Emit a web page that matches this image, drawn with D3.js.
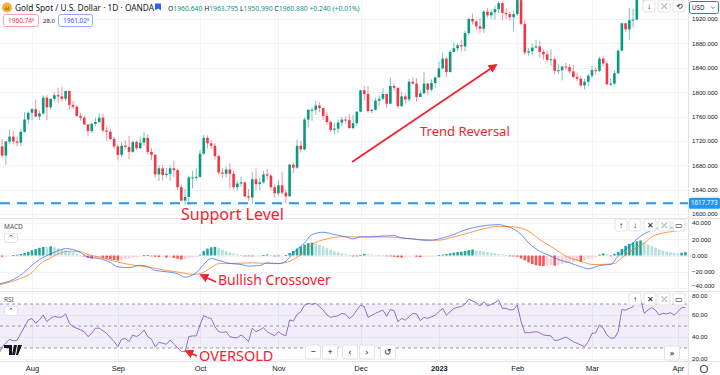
<!DOCTYPE html>
<html>
<head>
<meta charset="utf-8">
<script src="https://cdn.jsdelivr.net/npm/d3@7"></script>
<style>
  body { margin: 0; background: #fff; overflow: hidden; }
  svg { display: block; font-family: 'Noto Sans', 'Open Sans', sans-serif; }
</style>
</head>
<body>
<svg id="chart"></svg>
<script>
// ---- data (XAUUSD daily, 20 Jul 2022 .. 5 Apr 2023) ----
const firstOpen = 1711;
const closes = [
  1696,1719,1727,1719,1717,1735,1755,1766,
  1772,1760,1765,1791,1775,1789,1795,1793,1789,1802,1779,1776,1761,1758,1747,1736,1748,1751,1758,1737,1735,1723,1711,
  1697,1712,1710,1702,1718,1708,1717,1725,1702,1697,1665,1675,1664,1666,1675,1672,1644,1622,1628,1660,1660,1661,
  1699,1725,1716,1712,1695,1668,1666,1673,1666,1644,1650,1652,1629,1627,1657,1649,1652,1665,1663,1644,1634,
  1647,1635,1629,1681,1676,1712,1706,1755,1771,1771,1778,1774,1761,1751,1738,1740,1750,1755,1754,1741,1749,1768,
  1803,1797,1769,1771,1786,1789,1797,1781,1810,1807,1777,1793,1788,1817,1814,1792,1798,1814,1804,1815,1824,
  1839,1855,1833,1866,1872,1877,1875,1897,1920,1916,1908,1904,1932,1926,1931,1936,1946,1930,1928,1923,1928,
  1951,1912,1865,1867,1873,1875,1866,1862,1853,1854,1835,1836,1842,1841,1834,1825,1822,1811,1817,1827,
  1836,1835,1855,1847,1813,1814,1831,1868,1913,1903,1918,1919,1989,1978,1940,1970,1992,1977,1956,1973,1964,1980,1969,
  1984,2020,2021
];
const highs = [
  1723,1720,1739,1737,1727,1739,1767,1768,
  1774,1788,1770,1795,1795,1790,1800,1807,1808,1802,1802,1786,1779,1766,1762,1747,1750,1758,1765,1765,1744,1740,1727,
  1714,1718,1721,1728,1720,1721,1727,1735,1731,1708,1699,1680,1680,1676,1680,1688,1674,1648,1641,1663,1671,1675,
  1705,1730,1729,1721,1716,1697,1675,1678,1683,1671,1655,1661,1653,1641,1669,1675,1659,1670,1674,1665,1648,
  1656,1669,1640,1682,1684,1722,1720,1759,1772,1774,1786,1783,1774,1767,1753,1749,1755,1759,1760,1764,1763,1768,
  1804,1810,1810,1773,1791,1795,1807,1798,1824,1814,1808,1800,1798,1822,1824,1823,1804,1833,1815,1821,1826,
  1850,1865,1858,1869,1881,1880,1886,1901,1922,1929,1919,1922,1935,1938,1935,1942,1949,1949,1938,1932,1933,
  1952,1959,1918,1872,1880,1886,1884,1870,1867,1870,1858,1846,1843,1848,1846,1845,1832,1827,1822,1830,
  1843,1841,1858,1859,1851,1822,1836,1871,1914,1913,1938,1937,1989,2009,1983,1972,2003,2004,1979,1976,1977,1984,1987,
  1990,2025,2032
];
const lows = [
  1692,1681,1714,1714,1711,1711,1733,1748,
  1754,1759,1754,1763,1754,1771,1785,1782,1784,1785,1771,1772,1759,1753,1746,1728,1733,1744,1749,1734,1720,1721,1707,
  1688,1693,1706,1690,1700,1705,1707,1712,1697,1688,1659,1654,1655,1660,1654,1660,1639,1621,1615,1614,1642,1655,
  1659,1697,1708,1707,1689,1665,1659,1660,1642,1640,1639,1645,1627,1621,1617,1639,1639,1650,1656,1640,1627,
  1630,1632,1617,1628,1667,1674,1701,1704,1742,1753,1763,1767,1754,1747,1734,1731,1733,1744,1748,1740,1739,1745,
  1767,1786,1766,1765,1770,1778,1787,1775,1780,1802,1773,1776,1781,1785,1812,1785,1792,1797,1795,1801,1807,
  1828,1837,1825,1832,1865,1867,1867,1867,1893,1911,1901,1896,1897,1922,1920,1919,1930,1918,1920,1917,1900,
  1926,1910,1861,1860,1860,1872,1857,1853,1850,1843,1830,1830,1819,1836,1830,1822,1818,1809,1804,1810,
  1824,1829,1833,1842,1811,1809,1812,1829,1867,1898,1886,1906,1918,1955,1934,1936,1965,1956,1944,1949,1950,1956,1960,
  1950,1979,2010
];
// open of each daily bar is the previous bar's close (spot gold trades round the clock)
const opens = closes.map((c, i) => (i ? closes[i - 1] : firstOpen));

// MACD histogram, one value per bar
const macdHist = [
  -1.5,-1.0,-0.4,0.4,1.0,1.8,3.0,4.5,6.5,8.0,9.5,10.5,10.2,11.2,10.0,8.8,7.8,6.5,5.2,3.8,
  2.4,0.8,-1.2,-2.8,-4.0,-3.2,-2.0,-3.0,-4.0,-4.8,-5.5,-6.2,-5.5,-4.5,-3.5,-2.5,-1.8,-1.0,0.3,0.5,
  -0.3,-1.5,-2.0,-1.8,-2.5,-2.2,-3.0,-4.0,-5.0,-4.5,-3.5,-2.5,-1.5,1.0,5.5,8.5,10.0,10.6,9.0,7.2,
  5.4,3.8,2.4,1.4,0.5,-0.3,-0.8,-1.0,-0.6,-0.3,0.4,1.2,0.8,-0.3,-0.6,-0.4,0.5,3.0,5.5,8.5,
  11.0,13.5,15.2,15.8,14.6,13.0,11.0,9.0,7.0,5.2,3.8,2.5,1.5,0.6,-0.2,-0.5,0.3,2.0,1.5,1.2,
  0.8,0.6,0.2,-0.5,-1.0,-1.6,-2.2,-2.6,-2.0,-1.2,-0.8,-1.5,-2.0,-1.6,-1.2,-0.8,-0.3,0.4,1.0,1.8,
  2.8,3.6,4.2,4.6,5.5,6.6,7.4,6.2,5.8,5.0,4.2,3.4,2.6,1.8,1.2,0.5,-0.6,-1.2,-1.5,-3.5,
  -6.0,-8.5,-10.5,-12.0,-12.8,-13.0,-12.2,-11.8,-12.5,-11.5,-10.5,-9.6,-8.8,-8.0,-7.2,-7.8,-6.4,-5.0,-3.5,-2.0,
  1.2,2.4,1.8,-0.5,2.0,4.5,8.0,12.0,14.5,16.0,17.5,18.5,16.0,13.5,11.5,9.5,7.5,6.0,5.0,4.0,
  3.2,2.6,3.4,4.2
];
// MACD and signal lines, [bar, value]
const macdLine = [
  [-1,-35],[2,-31.5],[5,-24],[8,-12],[10,-5],[13,2],[15,6],[17,8.5],[19,7.4],[21,3.7],[23,-2],[26,-3.7],
  [29,-8.6],[31,-14],[34,-15],[37,-12],[39,-13.7],[41,-18.4],[44,-20],[47,-22.5],[49,-26.6],[51,-24],[52,-21],
  [54,-11],[56,-3.7],[58,-6],[61,-9.8],[64,-11],[66,-13],[69,-12.3],[71,-9],[74,-10],[76,-7],[78,3.3],[81,15.5],
  [83,25.8],[86,28.6],[89,25.8],[92,23],[94,20.6],[96,23],[98,22.9],[101,23.7],[105,24.5],[107,21.7],[110,20.4],
  [113,18.8],[115,18.8],[118,21.7],[121,25.8],[123,29.9],[126,34],[130,37.2],[133,38],[135,36],[137,32.7],
  [139,25.8],[141,15.5],[144,5.3],[147,-0.8],[149,-4.9],[152,-9],[155,-13.9],[157,-16.4],[158,-15.5],[160,-12.3],
  [163,-11],[165,-0.8],[168,11.4],[171,23.7],[174,31],[176,34],[179,34],[182,35.2],[183,36.8]
];
const signalLine = [
  [-1,-36.4],[5,-28],[8,-21],[10,-11],[13,-2.9],[15,2],[18,5.3],[21,4.6],[23,1.2],[26,-2],[30,-7],[34,-11],
  [37,-13],[40,-15],[44,-18.4],[48,-21],[51,-23.3],[53,-22.2],[56,-15],[58,-10],[62,-9.8],[67,-9],[73,-10],
  [76,-8.6],[80,1.2],[83,13.5],[87,20.4],[91,23],[94,23],[96,22.5],[101,22.9],[107,21.7],[112,19.6],[117,18.8],
  [120,21.7],[125,27.8],[129,33],[133,36],[137,35.2],[141,29.9],[144,19.6],[148,8.2],[151,-0.8],[155,-7],
  [158,-11],[160,-11],[164,-9.8],[166,-2.9],[169,7.4],[172,15.5],[174,23],[178,28.6],[182,31],[183,31.9]
];
// RSI(14), [bar, value]
const rsiLine = [
  [-1,23.6],[0,31.2],[2,38],[3,36.4],[4,37],[6,49.4],[7,55.5],[8,56.8],[9,52.5],[10,55.5],[11,60],[12,54],[13,57],
  [14,58.8],[15,58],[16,58],[17,61],[18,52.4],[19,49.4],[20,48],[22,44.8],[23,40.3],[24,43.3],[25,48],[26,48],
  [28,43.3],[29,39.4],[30,35.8],[31,31.2],[32,38],[33,38.5],[34,35.8],[35,41.8],[36,40.3],[37,42.4],[38,46.4],
  [39,40.3],[40,38],[41,31.2],[42,35.2],[43,34.3],[44,33.4],[45,37.3],[46,33.4],[47,30.3],[48,26.7],[49,26.7],
  [50,40.3],[51,41],[52,41],[53,50.9],[54,59.4],[55,57.6],[56,56.8],[57,49.4],[58,44.8],[59,44.2],[60,44.8],
  [61,40.3],[62,39.4],[63,39.4],[64,41.8],[65,39.4],[66,35.8],[67,47.9],[68,44.8],[69,46.4],[70,48.5],[71,44.8],
  [73,41],[74,44.8],[75,42.4],[76,41],[77,55.5],[78,54.5],[79,60.6],[80,63],[81,69],[82,70.6],[83,69.7],[84,70.6],
  [85,67.6],[86,64.5],[87,60],[88,57.9],[90,59.4],[91,61.5],[92,60.6],[93,56.8],[94,59.4],[95,64.5],[96,68.8],
  [97,67.6],[98,57.9],[100,61.5],[102,64.5],[103,58.8],[104,65],[105,63.9],[106,53.9],[107,56.8],[108,55.4],
  [110,61.5],[111,61],[112,54.8],[113,57.9],[114,56.8],[116,59.8],[117,63],[118,66],[119,59.8],[121,66],[122,67],
  [123,67.6],[124,70],[125,74.3],[127,71.2],[128,68.2],[129,72.1],[130,68.2],[132,71.2],[133,73.6],[134,66],
  [135,66],[136,64.5],[137,65],[138,69],[139,53.9],[140,43.9],[141,43.9],[143,44.8],[144,43.9],[145,41.8],[147,41],
  [148,36.7],[149,37.3],[151,40],[153,35.8],[154,34.3],[156,31.2],[157,35.8],[158,43.3],[159,43.9],[160,50.9],
  [161,48],[162,41.8],[163,39],[164,39],[165,44.8],[166,65],[167,64.5],[168,66],[169,67.6],[170,73],[171,74.3],
  [172,61.5],[173,64.5],[174,66.7],[175,64.5],[176,60],[177,61.5],[178,61],[179,62.1],[180,60],[181,63],
  [182,66.7],[183,66.7]
];
const monthLabels = ['Aug', 'Sep', 'Oct', 'Nov', 'Dec', '2023', 'Feb', 'Mar', 'Apr'];
const monthBars = [8, 31, 53, 74, 96, 117, 138, 158, 181];
const priceTicks = [1600, 1640, 1680, 1720, 1760, 1800, 1840, 1880, 1920];
const macdTicks = [-40, -20, 0, 20, 40];
const rsiTicks = [20, 40, 60, 80];
const supportLevel = 1617.773;

// ---- layout ----
const config = {
  width: 720,
  height: 375,
  plotRight: 688,
  price: { top: 0, bottom: 217 },
  macd: { top: 219, bottom: 291 },
  rsi: { top: 292, bottom: 361 },
  up: '#089981',
  down: '#f23645',
  grid: '#f0f3fa',
  border: '#e0e3eb',
  text: '#131722',
  note: '#f5222d',
  axisFont: '6.2px',
};
const c = config;

const svg = d3.select('#chart').attr('width', c.width).attr('height', c.height)
  .attr('viewBox', [0, 0, c.width, c.height]);
const defs = svg.append('defs');

const x = d3.scaleLinear([8, 158], [32, 592]);
const bodyW = 2.6;
const yP = d3.scaleLinear([1600, 1920], [214, 19]);
const yM = d3.scaleLinear([-40, 40], [288, 223]);
const yR = d3.scaleLinear([20, 80], [359, 293]);

['price', 'macd', 'rsi'].forEach((k) => {
  defs.append('clipPath').attr('id', `clip_${k}`).append('rect')
    .attr('x', 0).attr('y', c[k].top).attr('width', c.plotRight).attr('height', c[k].bottom - c[k].top);
  defs.append('clipPath').attr('id', `axis_${k}`).append('rect')
    .attr('x', c.plotRight).attr('y', c[k].top).attr('width', c.width - c.plotRight).attr('height', c[k].bottom - c[k].top);
});

/**
 * grid
 */
const grid = svg.append('g').attr('stroke', c.grid).attr('stroke-width', 1);
monthBars.forEach((b) => {
  ['price', 'macd', 'rsi'].forEach((k) => {
    grid.append('line').attr('x1', Math.round(x(b)) + 0.5).attr('x2', Math.round(x(b)) + 0.5)
      .attr('y1', c[k].top).attr('y2', c[k].bottom);
  });
});
priceTicks.forEach((t) => grid.append('line').attr('x1', 0).attr('x2', c.plotRight)
  .attr('y1', Math.round(yP(t)) + 0.5).attr('y2', Math.round(yP(t)) + 0.5));
macdTicks.forEach((t) => grid.append('line').attr('x1', 0).attr('x2', c.plotRight)
  .attr('y1', Math.round(yM(t)) + 0.5).attr('y2', Math.round(yM(t)) + 0.5));
rsiTicks.forEach((t) => grid.append('line').attr('x1', 0).attr('x2', c.plotRight)
  .attr('y1', Math.round(yR(t)) + 0.5).attr('y2', Math.round(yR(t)) + 0.5));

// pane borders
const borders = svg.append('g').attr('stroke', c.border).attr('stroke-width', 1);
borders.append('line').attr('x1', 0).attr('x2', c.width).attr('y1', 218.5).attr('y2', 218.5);
borders.append('line').attr('x1', 0).attr('x2', c.width).attr('y1', 291.5).attr('y2', 291.5);
borders.append('line').attr('x1', 0).attr('x2', c.width).attr('y1', 361.5).attr('y2', 361.5);
borders.append('line').attr('x1', c.plotRight + 0.5).attr('x2', c.plotRight + 0.5).attr('y1', 0).attr('y2', c.height);

/**
 * candles
 */
const bars = d3.range(closes.length);
const candles = svg.append('g').attr('clip-path', 'url(#clip_price)')
  .selectAll('g').data(bars).join('g');
candles.append('line')
  .attr('x1', (i) => x(i)).attr('x2', (i) => x(i))
  .attr('y1', (i) => yP(highs[i])).attr('y2', (i) => yP(lows[i]))
  .attr('stroke', (i) => (closes[i] >= opens[i] ? c.up : c.down))
  .attr('stroke-opacity', 0.55)
  .attr('stroke-width', 1);
candles.append('rect')
  .attr('x', (i) => x(i) - bodyW / 2)
  .attr('width', bodyW)
  .attr('y', (i) => yP(Math.max(opens[i], closes[i])))
  .attr('height', (i) => Math.max(1, Math.abs(yP(opens[i]) - yP(closes[i]))))
  .attr('fill', (i) => (closes[i] >= opens[i] ? c.up : c.down));

// support line
svg.append('line').attr('x1', 0).attr('x2', c.plotRight)
  .attr('y1', yP(supportLevel)).attr('y2', yP(supportLevel))
  .attr('stroke', '#2196f3').attr('stroke-width', 2).attr('stroke-dasharray', '10,7');

/**
 * MACD pane
 */
const macdG = svg.append('g').attr('clip-path', 'url(#clip_macd)');
macdG.selectAll('rect').data(bars).join('rect')
  .attr('x', (i) => x(i) - bodyW / 2)
  .attr('width', bodyW)
  .attr('y', (i) => Math.min(yM(0), yM(macdHist[i])))
  .attr('height', (i) => Math.max(0.8, Math.abs(yM(macdHist[i]) - yM(0))))
  .attr('fill', (i) => {
    const v = macdHist[i];
    const prev = i ? macdHist[i - 1] : v;
    if (v >= 0) return v >= prev ? '#26a69a' : '#b2dfdb';
    return v <= prev ? '#ff5252' : '#ffcdd2';
  });
const macdPath = d3.line().x((d) => x(d[0])).y((d) => yM(d[1])).curve(d3.curveMonotoneX);
macdG.append('path').attr('d', macdPath(signalLine)).attr('fill', 'none')
  .attr('stroke', '#ff6d00').attr('stroke-opacity', 0.7).attr('stroke-width', 1);
macdG.append('path').attr('d', macdPath(macdLine)).attr('fill', 'none')
  .attr('stroke', '#2962ff').attr('stroke-opacity', 0.7).attr('stroke-width', 1);

/**
 * RSI pane
 */
const rsiG = svg.append('g').attr('clip-path', 'url(#clip_rsi)');
rsiG.append('rect').attr('x', 0).attr('width', c.plotRight)
  .attr('y', yR(70)).attr('height', yR(30) - yR(70)).attr('fill', 'rgba(126,87,194,0.1)');
[70, 50, 30].forEach((t) => rsiG.append('line').attr('x1', 0).attr('x2', c.plotRight)
  .attr('y1', yR(t)).attr('y2', yR(t)).attr('stroke', '#9598a1').attr('stroke-width', 1)
  .attr('stroke-dasharray', '3,3'));
rsiG.append('path')
  .attr('d', d3.line().x((d) => x(d[0])).y((d) => yR(d[1]))(rsiLine))
  .attr('fill', 'none').attr('stroke', '#7e57c2').attr('stroke-opacity', 0.85).attr('stroke-width', 1);

/**
 * axes
 */
const axisFont = (g) => g.call((g) => g.select('.domain').remove())
  .selectAll('text').attr('fill', c.text).style('font-size', c.axisFont);
svg.append('g').attr('clip-path', 'url(#axis_price)').append('g')
  .attr('transform', `translate(${c.plotRight + 1},0)`)
  .call(d3.axisRight(yP).tickValues(priceTicks).tickFormat(d3.format('.3f')).tickSize(0))
  .call(axisFont);
svg.append('g').attr('clip-path', 'url(#axis_macd)').append('g')
  .attr('transform', `translate(${c.plotRight + 1},0)`)
  .call(d3.axisRight(yM).tickValues(macdTicks).tickFormat(d3.format('.3f')).tickSize(0))
  .call(axisFont)
  .call((g) => g.selectAll('text').attr('dy', (d) => (d === -40 ? '-0.15em' : '0.32em')));
svg.append('g').attr('clip-path', 'url(#axis_rsi)').append('g')
  .attr('transform', `translate(${c.plotRight + 1},0)`)
  .call(d3.axisRight(yR).tickValues(rsiTicks).tickFormat(d3.format('.2f')).tickSize(0))
  .call(axisFont)
  .call((g) => g.selectAll('text').attr('dy', (d) => (d === 80 ? '0.65em' : '0.32em')));
svg.append('g').attr('transform', 'translate(0,362)')
  .call(d3.axisBottom(x).tickValues(monthBars).tickFormat((d, i) => monthLabels[i]).tickSize(0).tickPadding(4))
  .call(axisFont)
  .call((g) => g.selectAll('text').style('font-size', '7.5px')
    .attr('font-weight', (d, i) => (monthLabels[i] === '2023' ? 700 : 400)));

// price label of the support line
svg.append('rect').attr('x', c.plotRight + 1).attr('y', yP(supportLevel) - 5.5).attr('width', 31).attr('height', 11)
  .attr('rx', 1.5).attr('fill', '#2196f3');
svg.append('text').attr('x', c.plotRight + 3).attr('y', yP(supportLevel) + 2.2)
  .attr('fill', '#fff').style('font-size', c.axisFont).text(d3.format('.3f')(supportLevel));

/**
 * header / legend
 */
const header = svg.append('g');
header.append('circle').attr('cx', 7).attr('cy', 7.5).attr('r', 5).attr('fill', '#f4b13d');
header.append('path').attr('d', 'M4.5,9 h5 M5.5,7 h1 M8,7 h1').attr('stroke', '#8a5a00').attr('stroke-width', 1);
header.append('text').attr('x', 15).attr('y', 10.5).attr('fill', c.text).style('font-size', '8.3px')
  .text('Gold Spot / U.S. Dollar · 1D · OANDA');
header.append('path').attr('d', 'M155,3.5 h6 v7 l-3,-2 l-3,2 z').attr('fill', '#2962ff');
const ohlc = header.append('text').attr('x', 168).attr('y', 10.5).style('font-size', '6.8px');
[['O', '1960.640'], ['H', '1963.795'], ['L', '1950.990'], ['C', '1960.880']].forEach(([k, v]) => {
  ohlc.append('tspan').attr('fill', c.text).text(k);
  ohlc.append('tspan').attr('fill', c.up).text(v + ' ');
});
ohlc.append('tspan').attr('fill', c.up).text('+0.240 (+0.01%)');

header.append('rect').attr('x', 3.5).attr('y', 14.5).attr('width', 35).attr('height', 12).attr('rx', 2)
  .attr('fill', '#fff').attr('stroke', '#f7a1a8');
header.append('text').attr('x', 8).attr('y', 23).attr('fill', c.down).style('font-size', '6.5px').text('1960.74⁰');
header.append('text').attr('x', 43).attr('y', 23).attr('fill', c.text).style('font-size', '6px').text('28.0');
header.append('rect').attr('x', 58.5).attr('y', 14.5).attr('width', 34).attr('height', 12).attr('rx', 2)
  .attr('fill', '#fff').attr('stroke', '#8fa8ff');
header.append('text').attr('x', 63).attr('y', 23).attr('fill', '#2962ff').style('font-size', '6.5px').text('1961.02⁰');

// currency box
header.append('rect').attr('x', 689.5).attr('y', 1.5).attr('width', 29).attr('height', 12).attr('rx', 2)
  .attr('fill', '#fff').attr('stroke', '#089981');
header.append('text').attr('x', 692).attr('y', 10).attr('fill', c.text).style('font-size', '6.2px').text('USD');
header.append('path').attr('d', 'M711,6.5 l2,2 l2,-2').attr('fill', 'none').attr('stroke', '#555').attr('stroke-width', 0.8);

/**
 * pane buttons
 */
const btnG = svg.append('g');
function button(cx, cy, glyph, w = 12, h = 12, size = 8) {
  btnG.append('rect').attr('x', cx - w / 2).attr('y', cy - h / 2).attr('width', w).attr('height', h).attr('rx', 2)
    .attr('fill', '#fff').attr('stroke', '#e0e3eb');
  btnG.append('text').attr('x', cx).attr('y', cy + size * 0.35).attr('text-anchor', 'middle')
    .attr('fill', c.text).style('font-size', `${size}px`).text(glyph);
}
[[649, '↓'], [664, '⤫'], [679, '⟲']].forEach(([bx, g]) => button(bx, 6, g));
[[621, '↑'], [635, '↓'], [650, '✕'], [664, '⤫'], [679, '▭']].forEach(([bx, g]) => button(bx, 225, g));
[[635, '↑'], [650, '✕'], [664, '⤫'], [679, '▭']].forEach(([bx, g]) => button(bx, 299, g));
[[313, '−'], [330, '+'], [350, '‹'], [367, '›'], [388, '↺']].forEach(([bx, g]) => button(bx, 352, g, 15, 14, 9));
button(672, 353, '»', 15, 14, 9);

// pane titles
svg.append('text').attr('x', 4).attr('y', 229).attr('fill', '#50535e').style('font-size', '6.5px').text('MACD');
button(11, 238, '⌃', 13, 9, 7);
svg.append('text').attr('x', 4).attr('y', 302).attr('fill', '#50535e').style('font-size', '6.5px').text('RSI');
button(11, 311, '⌃', 13, 9, 7);

// TradingView mark
svg.append('path').attr('d', 'M4,345 h8 v10 h-3 v-7 h-5 z M14,345 h3 l-2,10 h-3 z M18,345 h4 l-4,10 h-2 z')
  .attr('fill', '#131722');

// settings gear
svg.append('circle').attr('cx', 704).attr('cy', 369).attr('r', 3.5).attr('fill', 'none')
  .attr('stroke', '#555').attr('stroke-width', 1.2);

/**
 * annotations
 */
defs.append('marker').attr('id', 'arrow').attr('viewBox', '0 0 10 10').attr('refX', 8).attr('refY', 5)
  .attr('markerWidth', 5).attr('markerHeight', 5).attr('orient', 'auto')
  .append('path').attr('d', 'M0,0 L10,5 L0,10 z').attr('fill', c.note);
const notes = svg.append('g').attr('fill', c.note);
function arrow(x1, y1, x2, y2) {
  svg.append('line').attr('x1', x1).attr('y1', y1).attr('x2', x2).attr('y2', y2)
    .attr('stroke', c.note).attr('stroke-width', 1.8).attr('marker-end', 'url(#arrow)');
}
notes.append('text').attr('x', 181).attr('y', 220).style('font-size', '16px').text('Support Level');
notes.append('text').attr('x', 420).attr('y', 136).style('font-size', '13px').text('Trend Reversal');
arrow(352, 162, 496, 65);
notes.append('text').attr('x', 218).attr('y', 285).style('font-size', '14px').text('Bullish Crossover');
arrow(216, 282, 201, 275);
notes.append('text').attr('x', 199).attr('y', 361).style('font-size', '14.5px').text('OVERSOLD');
arrow(197, 356, 186, 351);
</script>
</body>
</html>
